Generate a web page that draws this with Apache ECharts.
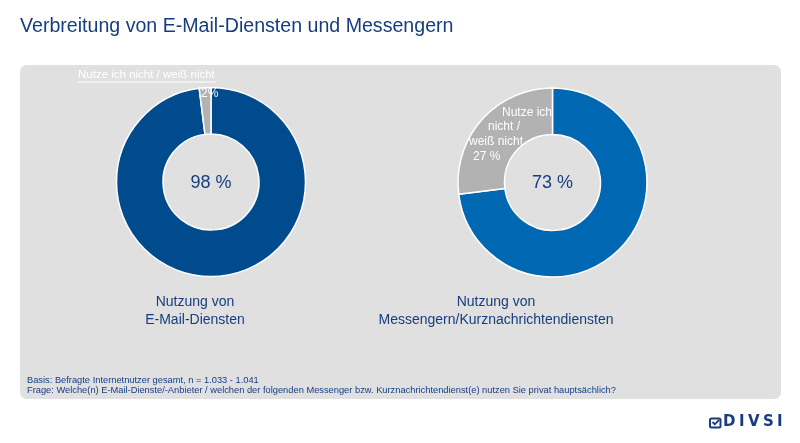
<!DOCTYPE html>
<html><head><meta charset="utf-8">
<script src="https://cdn.jsdelivr.net/npm/echarts@6/dist/echarts.min.js"></script>
<style>html,body{margin:0;padding:0;background:#fff}#c{width:800px;height:443px}</style>
</head><body><div id="c"></div>
<script>
const categories = ['Nutze ich', 'Nutze ich nicht / weiß nicht'];
const emailValues = [98, 2];
const messengerValues = [73, 27];
const chartTitles = ['Nutzung von\nE-Mail-Diensten', 'Nutzung von\nMessengern/Kurznachrichtendiensten'];
const footerLines = [
  'Basis: Befragte Internetnutzer gesamt, n = 1.033 - 1.041',
  'Frage: Welche(n) E-Mail-Dienste/-Anbieter / welchen der folgenden Messenger bzw. Kurznachrichtendienst(e) nutzen Sie privat hauptsächlich?'
];

const NAVY = '#173d80';
const FONT = 'Liberation Sans, Arial, sans-serif';
const chart = echarts.init(document.getElementById('c'));

function pieData(vals, mainColor) {
  return vals.map((v, i) => ({
    name: categories[i], value: v,
    itemStyle: { color: i === 0 ? mainColor : '#b2b2b2' }
  }));
}

const whiteText = (x, y, t, size) => ({
  type: 'text', left: x, top: y, z: 20,
  style: { text: t, fill: '#fff', font: size + 'px ' + FONT }
});

const logoLetters = [['D', 723], ['I', 739], ['V', 748], ['S', 763], ['I', 777]];

chart.setOption({
  backgroundColor: '#ffffff',
  animation: false,
  graphic: [
    { type: 'rect', shape: { x: 20, y: 65, width: 761, height: 334, r: 7 }, style: { fill: '#e0e0e0' }, z: -10 },
    { type: 'text', left: 20, top: 17, style: { text: 'Verbreitung von E-Mail-Diensten und Messengern', fill: NAVY, font: '19.6px ' + FONT } },
    // left annotation (underlined)
    whiteText(78, 69, categories[1], 11.5),
    { type: 'line', shape: { x1: 78, y1: 82, x2: 216, y2: 82 }, style: { stroke: '#fff', lineWidth: 1 }, z: 20 },
    whiteText(201, 88, emailValues[1] + '%', 12),
    // right annotation
    whiteText(502, 107, 'Nutze ich', 12),
    whiteText(488, 121, 'nicht /', 12),
    whiteText(469, 136, 'weiß nicht', 12),
    whiteText(473, 151, messengerValues[1] + ' %', 12),
    // center values
    { type: 'text', z: 20, x: 211, y: 183, style: { text: emailValues[0] + ' %', fill: NAVY, font: '18px ' + FONT, align: 'center', verticalAlign: 'middle' } },
    { type: 'text', z: 20, x: 552.5, y: 183, style: { text: messengerValues[0] + ' %', fill: NAVY, font: '18px ' + FONT, align: 'center', verticalAlign: 'middle' } },
    // subtitles
    { type: 'text', x: 195, y: 293, style: { text: chartTitles[0], fill: NAVY, font: '14px ' + FONT, align: 'center', lineHeight: 18 } },
    { type: 'text', x: 496, y: 293, style: { text: chartTitles[1], fill: NAVY, font: '14px ' + FONT, align: 'center', lineHeight: 18 } },
    // footer
    { type: 'text', left: 27, top: 375, style: { text: footerLines.join('\n'), fill: NAVY, font: '9.3px ' + FONT, lineHeight: 10 } },
    // logo
    { type: 'rect', shape: { x: 710, y: 418.5, width: 10.5, height: 9, r: 1.5 }, style: { fill: 'none', stroke: NAVY, lineWidth: 2 } },
    { type: 'polyline', shape: { points: [[712.5, 422], [714.8, 424.3], [719, 420]] }, style: { fill: 'none', stroke: NAVY, lineWidth: 1.8 } },
    ...logoLetters.map(([ch, x]) => ({ type: 'text', left: x, top: 414.5, style: { text: ch, fill: NAVY, font: 'bold 15px DejaVu Sans, sans-serif' } }))
  ],
  series: [
    {
      type: 'pie', center: [211, 182], radius: [48, 94.5], startAngle: 90, clockwise: true,
      label: { show: false }, labelLine: { show: false }, silent: true,
      itemStyle: { borderColor: '#fff', borderWidth: 1.5 },
      data: pieData(emailValues, '#004b8d')
    },
    {
      type: 'pie', center: [552.5, 182.5], radius: [48, 94.5], startAngle: 90, clockwise: true,
      label: { show: false }, labelLine: { show: false }, silent: true,
      itemStyle: { borderColor: '#fff', borderWidth: 1.5 },
      data: pieData(messengerValues, '#0068b3')
    }
  ]
});
</script></body></html>
